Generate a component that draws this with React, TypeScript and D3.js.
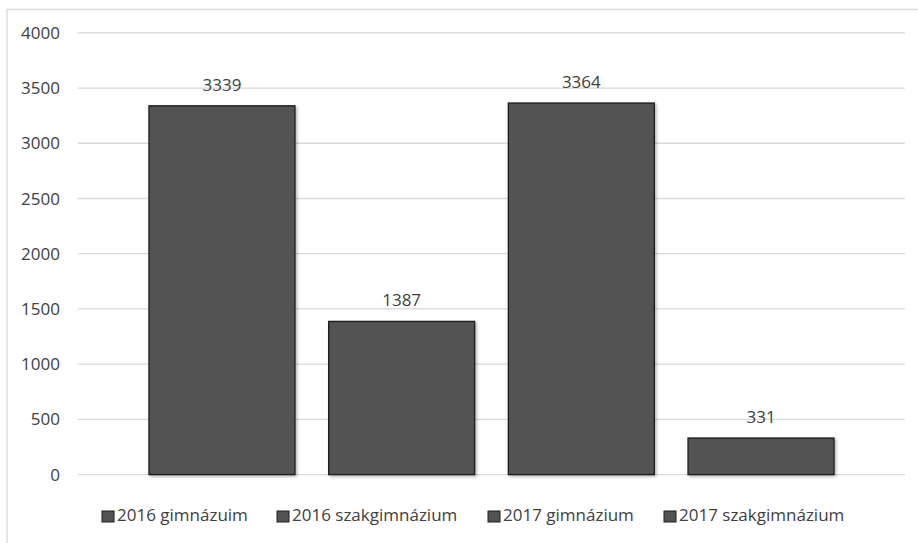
import React, { useEffect, useRef } from 'react';
import * as d3 from 'd3';

const series = ['2016 gimnázuim', '2016 szakgimnázium', '2017 gimnázium', '2017 szakgimnázium'];
const values = [3339, 1387, 3364, 331];
const yTicks = [0, 500, 1000, 1500, 2000, 2500, 3000, 3500, 4000];

const W = 918;
const H = 543;

export default function App() {
  const svgRef = useRef<SVGSVGElement>(null);

  useEffect(() => {
    if (!svgRef.current) return;
    const svg = d3.select(svgRef.current);
    svg.selectAll('*').remove();

    const margin = { top: 32.8, right: 13, bottom: 68.4, left: 78 };
    const font = '"Open Sans", "Noto Sans", sans-serif';
    const textColor = '#404040';

    // filter for the light shadow of the bars
    const defs = svg.append('defs');
    const f = defs.append('filter').attr('id', 'shadow').attr('x', '-10%').attr('y', '-10%').attr('width', '130%').attr('height', '130%');
    f.append('feDropShadow')
      .attr('dx', 1.5).attr('dy', 1.5).attr('stdDeviation', 1.5)
      .attr('flood-color', '#000').attr('flood-opacity', 0.3);

    // chart area border
    svg.append('rect')
      .attr('x', 7).attr('y', 9.5)
      .attr('width', W + 20).attr('height', H + 20)
      .attr('fill', '#fff')
      .attr('stroke', '#d9d9d9').attr('stroke-width', 1.3);

    const y = d3.scaleLinear().domain([0, 4000]).range([H - margin.bottom, margin.top]);
    const x = d3.scaleBand<string>()
      .domain(series)
      .range([margin.left, W - margin.right])
      .paddingInner(0.1875)
      .paddingOuter(0.395);

    // grid
    svg.append('g').selectAll('line').data(yTicks).join('line')
      .attr('x1', margin.left).attr('x2', W - margin.right)
      .attr('y1', d => y(d)).attr('y2', d => y(d))
      .attr('stroke', '#d9d9d9').attr('stroke-width', 1.3);

    // y tick labels
    svg.append('g').selectAll('text').data(yTicks).join('text')
      .attr('x', 60).attr('y', d => y(d))
      .attr('dy', '0.36em')
      .attr('text-anchor', 'end')
      .attr('font-family', font).attr('font-size', 17)
      .attr('fill', textColor)
      .text(d => String(d));

    // bars
    svg.append('g').selectAll('rect').data(values).join('rect')
      .attr('x', (_, i) => x(series[i])!)
      .attr('y', d => y(d))
      .attr('width', x.bandwidth())
      .attr('height', d => y(0) - y(d))
      .attr('fill', '#525252')
      .attr('stroke', '#1e1e1e').attr('stroke-width', 1.3)
      .attr('filter', 'url(#shadow)');

    // value labels
    svg.append('g').selectAll('text').data(values).join('text')
      .attr('x', (_, i) => x(series[i])! + x.bandwidth() / 2)
      .attr('y', d => y(d) - 15)
      .attr('text-anchor', 'middle')
      .attr('font-family', font).attr('font-size', 17)
      .attr('fill', textColor)
      .text(d => String(d));

    // legend
    const legendX = [102, 277, 488, 664];
    const legend = svg.append('g').selectAll('g').data(series).join('g')
      .attr('transform', (_, i) => `translate(${legendX[i]},511)`);
    legend.append('rect')
      .attr('width', 12).attr('height', 11)
      .attr('fill', '#525252')
      .attr('stroke', '#1e1e1e').attr('stroke-width', 1);
    legend.append('text')
      .attr('x', 15).attr('y', 10)
      .attr('font-family', font).attr('font-size', 17)
      .attr('fill', textColor)
      .text(d => d);
  }, []);

  return (
    <svg
      ref={svgRef}
      width={W}
      height={H}
      style={{ position: 'absolute', left: 0, top: 0, background: '#fff' }}
    />
  );
}
